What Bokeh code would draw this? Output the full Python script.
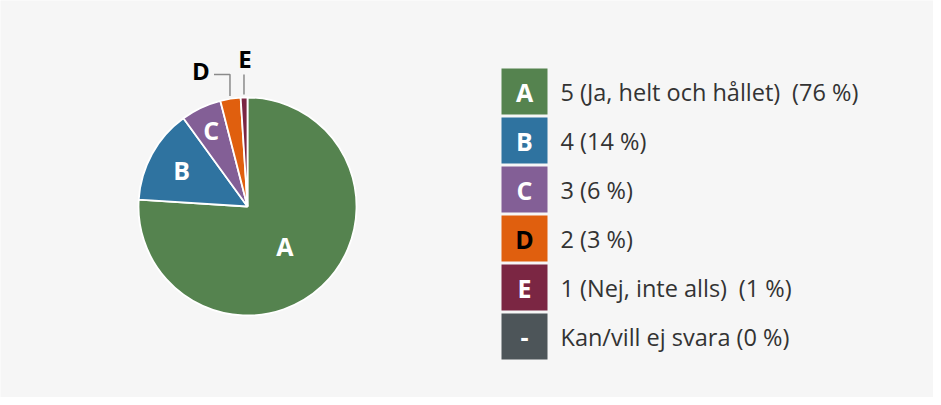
import numpy as np
from bokeh.plotting import figure
from bokeh.models import ColumnDataSource, Range1d
from bokeh.core.properties import value
from bokeh.embed import file_html
from bokeh.resources import INLINE

# ---- data ----
letters = ["A", "B", "C", "D", "E", "-"]
labels = ["5 (Ja, helt och hållet)\u2002(76 %)", "4 (14 %)", "3 (6 %)", "2 (3 %)",
          "1 (Nej, inte alls)\u2002(1 %)", "Kan/vill ej svara (0 %)"]
shares = [76, 14, 6, 3, 1, 0]
colors = ["#55834f", "#2f73a0", "#835f96", "#e05f0e", "#7b2643", "#4d5559"]
letter_colors = ["white", "white", "white", "black", "white", "white"]

W, H = 933, 397
FONT = "Open Sans"

p = figure(width=W, height=H, output_backend="svg", toolbar_location=None,
           x_range=Range1d(0, W), y_range=Range1d(0, H),
           min_border=0, border_fill_color="#f6f6f6", background_fill_color="#f6f6f6")
p.axis.visible = False
p.grid.visible = False
p.outline_line_color = None

def sy(y):  # screen y -> data y
    return H - (y - 8)

cx, cy, r = 247, sy(214), 109

vals = np.array(shares, dtype=float)
frac = vals / vals.sum()
cum_end = np.cumsum(frac)
cum_start = cum_end - frac
start = np.pi / 2 - cum_end * 2 * np.pi
end = np.pi / 2 - cum_start * 2 * np.pi
mid = (start + end) / 2

src = ColumnDataSource(dict(start=start[:5], end=end[:5], color=colors[:5]))
p.wedge(x=cx, y=cy, radius=r, start_angle="start", end_angle="end",
        fill_color="color", line_color="white", line_width=1.8, source=src)

# inside labels
rad_frac = [0.5, 0.69, 0.78]
for i in range(3):
    p.text(x=[cx + r * rad_frac[i] * np.cos(mid[i])], y=[cy + r * rad_frac[i] * np.sin(mid[i])],
           text=[letters[i]], text_color="white", text_font=value(FONT), text_font_style="bold",
           text_font_size="25px", text_align="center", text_baseline="middle")

# outside labels with leaders
lead_top = sy(82)
# D
dx0 = cx + (r + 3) * np.cos(mid[3])
dy0 = cy + (r + 3) * np.sin(mid[3])
p.line(x=[dx0, dx0, dx0 - 16], y=[dy0, lead_top, lead_top], line_color="#8a8a8a", line_width=1.5)
p.text(x=[dx0 - 29], y=[sy(78)], text=[letters[3]], text_color="black", text_font=value(FONT),
       text_font_style="bold", text_font_size="24px", text_align="center", text_baseline="middle")
# E
ex0 = cx + (r + 3) * np.cos(mid[4])
ey0 = cy + (r + 3) * np.sin(mid[4])
p.line(x=[ex0, ex0], y=[ey0, lead_top], line_color="#8a8a8a", line_width=1.5)
p.text(x=[ex0 + 1], y=[sy(66)], text=[letters[4]], text_color="black", text_font=value(FONT),
       text_font_style="bold", text_font_size="24px", text_align="center", text_baseline="middle")

# legend
lx = 524
ly = [sy(99 + 49 * i) for i in range(6)]
p.rect(x=[lx] * 6, y=ly, width=46, height=46, fill_color=colors, line_color=None)
p.text(x=[lx] * 6, y=ly, text=letters, text_color=letter_colors, text_font=value(FONT),
       text_font_style="bold", text_font_size="25px", text_align="center", text_baseline="middle")
p.text(x=[560] * 6, y=ly, text=labels, text_color="#333333", text_font=value(FONT),
       text_font_size="23.5px", text_align="left", text_baseline="middle")

open("out.html", "w").write(file_html(p, INLINE))
